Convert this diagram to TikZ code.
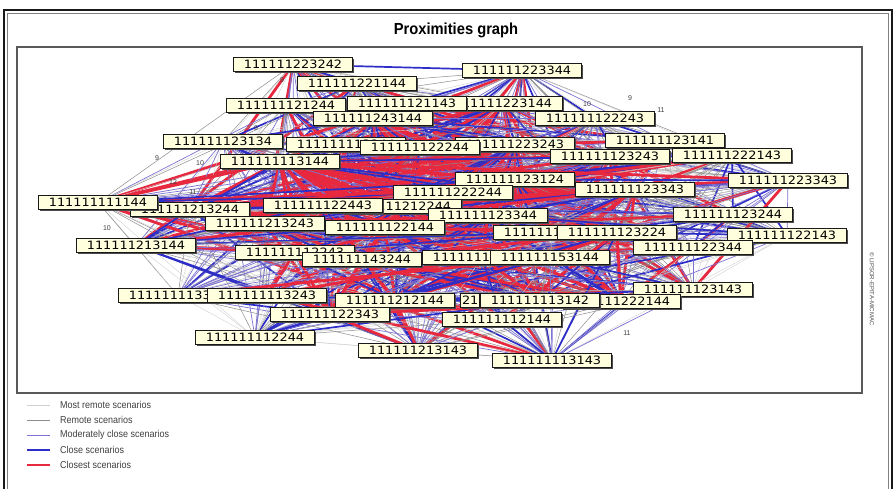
\documentclass[tikz,border=0pt]{standalone}
\usepackage{fontspec}
\setmainfont{Liberation Sans}
\newfontfamily\labfont[FakeStretch=1.12]{DejaVu Sans}
\newfontfamily\titlefont[FakeStretch=0.92]{Liberation Sans}
\newfontfamily\legfont[FakeStretch=0.9]{Liberation Sans}
\usetikzlibrary{shadows}

\definecolor{closestc}{RGB}{232,40,62}
\definecolor{closec}{RGB}{45,45,200}
\definecolor{modc}{RGB}{125,115,210}
\definecolor{labfill}{RGB}{255,255,222}

\pgfdeclarelayer{bg}
\pgfdeclarelayer{links}
\pgfsetlayers{bg,links,main}

% scenario boxes with their class: 0 = core, 1 = outer ring
\def\nodelist{n1/1,n2/1,n3/1,n4/1,n5/0,n6/0,n7/0,n8/1,n9/1,n10/0,n11/0,n12/0,n13/1,n14/0,n15/1,n16/0,n17/1,n18/1,n19/0,n20/0,n21/0,n22/0,n23/1,n24/1,n25/1,n26/0,n26b/0,n27/0,n28/0,n29/0,n30/1,n31a/0,n31b/0,n32a/0,n32b/0,n33a/0,n33b/0,n34a/1,n34b/1,n35/0,n36/0,n37/0,n38/1,n39/1,n40/0,n41/1,n42/1,n43/1}

\begin{document}
\begin{tikzpicture}[x=1pt,y=-1pt,
  lab/.style={draw=black!90, line width=1pt, fill=labfill, inner xsep=2pt, inner ysep=1pt,
    minimum width=119pt, minimum height=14pt, anchor=north west,
    font=\labfont\fontsize{11.5}{11.5}\selectfont,
    drop shadow={shadow xshift=1.3pt, shadow yshift=-1.3pt, fill=black!70, opacity=1}},
  num/.style={font=\fontsize{7}{7}\selectfont, text=black!75, inner sep=0pt},
  leg/.style={anchor=west, font=\legfont\fontsize{10}{10}\selectfont, text=black!75, inner sep=0pt},
  closest/.style={draw=closestc, line width=2.8pt},
  close/.style={draw=closec, line width=1.7pt},
  modclose/.style={draw=modc, line width=0.7pt},
  remote/.style={draw=black!45, line width=0.5pt},
  mostremote/.style={draw=black!18, line width=0.4pt}]

\useasboundingbox (0,0) rectangle (895,488);
\begin{pgfonlayer}{bg}
  \fill[white] (0,0) rectangle (895,488);
\end{pgfonlayer}

% window frame
\draw[black!90, line width=2pt] (3.5,9.5) rectangle (891.5,500);
\draw[black!50, line width=0.8pt] (7,13) rectangle (888,500);

% title and plot area
\node[font=\titlefont\bfseries\fontsize{16}{16}\selectfont] (title) at (456,30) {Proximities graph};
\draw[black!65, line width=1.2pt] (17,47) rectangle (862,393);
\node[rotate=-90, anchor=west, font=\fontsize{6}{6}\selectfont, text=black!70, inner sep=0pt] (copy) at (872,252) {© LIPSOR-EPITA-MICMAC};

% scenario boxes (hidden ones first)
\node[lab] (n6) at (443,96) {111111223144};
\node[lab] (n5) at (347,96) {111111121143};
\node[lab] (n1) at (233,57) {111111223242};
\node[lab] (n2) at (297,76) {111111221144};
\node[lab] (n3) at (462,63) {111111223344};
\node[lab] (n4) at (226,98) {111111121244};
\node[lab] (n7) at (313,111) {111111243144};
\node[lab] (n8) at (535,111) {111111122243};
\node[lab] (n9) at (163,134) {111111123134};
\node[lab] (n10) at (286,137) {111111113244};
\node[lab] (n12) at (455,137) {111111223243};
\node[lab] (n11) at (360,140) {111111122244};
\node[lab] (n13) at (605,133) {111111123141};
\node[lab] (n14) at (550,149) {111111123243};
\node[lab] (n15) at (672,148) {111111222143};
\node[lab] (n16) at (220,154) {111111113144};
\node[lab] (n17) at (728,173) {111111223343};
\node[lab] (n19) at (130,202) {111111213244};
\node[lab] (n18) at (38,195) {111111111144};
\node[lab] (n21) at (455,172) {111111123124};
\node[lab] (n22) at (575,182) {111111123343};
\node[lab] (n20) at (393,185) {111111222244};
\node[lab] (n26b) at (342,199) {111111212244};
\node[lab] (n26) at (263,198) {111111122443};
\node[lab] (n23) at (673,207) {111111123244};
\node[lab] (n28) at (428,208) {111111123344};
\node[lab] (n27) at (205,216) {111111213243};
\node[lab] (n29) at (325,220) {111111122144};
\node[lab] (n24) at (727,228) {111111122143};
\node[lab] (n31a) at (493,225) {111111111243};
\node[lab] (n31b) at (557,225) {111111123224};
\node[lab] (n30) at (76,238) {111111213144};
\node[lab] (n25) at (633,240) {111111122344};
\node[lab] (n32a) at (235,245) {111111112243};
\node[lab] (n32b) at (302,252) {111111143244};
\node[lab] (n33a) at (422,250) {111111111143};
\node[lab] (n33b) at (490,250) {111111153144};
\node[lab] (n34a) at (118,288) {111111113343};
\node[lab] (n34b) at (207,288) {111111113243};
\node[lab] (n38) at (633,282) {111111123143};
\node[lab] (n37) at (561,294) {111111222144};
\node[lab] (n35) at (335,293) {111111212144};
\node[lab, minimum width=0pt, inner xsep=1.5pt] (n35c) at (460,293) {21};
\node[lab] (n36) at (480,293) {111111113142};
\node[lab] (n40) at (270,307) {111111122343};
\node[lab] (n39) at (442,312) {111111112144};
\node[lab] (n41) at (195,330) {111111112244};
\node[lab] (n42) at (358,343) {111111213143};
\node[lab] (n43) at (492,353) {111111113143};

% proximity links between every pair of scenarios
\begin{pgfonlayer}{links}
\foreach \a/\pa [count=\i] in \nodelist {
  \foreach \b/\pb [count=\j] in \nodelist {
    \ifnum\j>\i\relax
      \pgfmathtruncatemacro\h{mod(\i*\j*3+\i*37+\j*53,100)}
      \pgfmathtruncatemacro\pp{\pa+\pb}
      \ifcase\pp\relax \def\ta{46}\def\tb{76}\def\tc{88}\def\td{96}%
      \or \def\ta{12}\def\tb{26}\def\tc{58}\def\td{84}%
      \else \def\ta{4}\def\tb{10}\def\tc{32}\def\td{62}\fi
      \ifnum\h<\ta\relax \draw[closest] (\a.center) -- (\b.center);
      \else\ifnum\h<\tb\relax \draw[close] (\a.center) -- (\b.center);
      \else\ifnum\h<\tc\relax \draw[modclose] (\a.center) -- (\b.center);
      \else\ifnum\h<\td\relax \draw[remote] (\a.center) -- (\b.center);
      \else \draw[mostremote] (\a.center) -- (\b.center);
      \fi\fi\fi\fi
    \fi
  }
}
\end{pgfonlayer}

% link weights
\node[num] (w1) at (282,80) {9};
\node[num] (w2) at (587,104) {10};
\node[num] (w3) at (630,98) {9};
\node[num] (w4) at (661,110) {11};
\node[num] (w5) at (157,158) {9};
\node[num] (w6) at (200,163) {10};
\node[num] (w7) at (193,192) {11};
\node[num] (w8) at (107,228) {10};
\node[num] (w9) at (173,182) {12};
\node[num] (w10) at (627,333) {11};
\node[num] (w11) at (256,128) {9};

% legend
\coordinate (la1) at (27,405); \coordinate (lb1) at (50,405);
\coordinate (la2) at (27,420); \coordinate (lb2) at (50,420);
\coordinate (la3) at (27,435); \coordinate (lb3) at (50,435);
\coordinate (la4) at (27,450); \coordinate (lb4) at (50,450);
\coordinate (la5) at (27,465); \coordinate (lb5) at (50,465);
\draw[mostremote, line width=1pt] (la1) -- (lb1);
\draw[remote, line width=1pt] (la2) -- (lb2);
\draw[modclose, line width=1pt] (la3) -- (lb3);
\draw[close, line width=1.8pt] (la4) -- (lb4);
\draw[closest, line width=1.8pt] (la5) -- (lb5);
\node[leg] (lt1) at (60,405) {Most remote scenarios};
\node[leg] (lt2) at (60,420) {Remote scenarios};
\node[leg] (lt3) at (60,435) {Moderately close scenarios};
\node[leg] (lt4) at (60,450) {Close scenarios};
\node[leg] (lt5) at (60,465) {Closest scenarios};
\end{tikzpicture}
\end{document}
